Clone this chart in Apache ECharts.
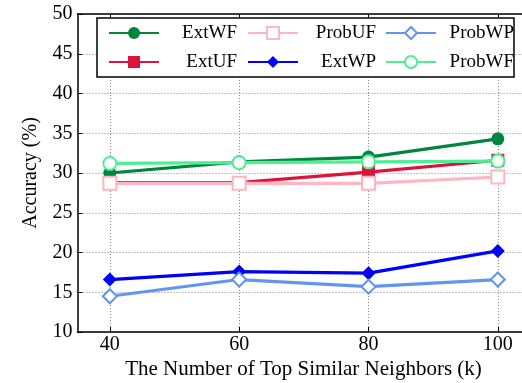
<!DOCTYPE html>
<html>
<head>
<meta charset="utf-8">
<script src="https://cdn.jsdelivr.net/npm/echarts@6/dist/echarts.min.js"></script>
<style>html,body{margin:0;padding:0;background:#fff;overflow:hidden}#c{width:522px;height:383px}</style>
</head>
<body>
<div id="c"></div>
<script>
const kValues = [40, 60, 80, 100];
const yTicks = [10, 15, 20, 25, 30, 35, 40, 45, 50];
const extWF = [30.0, 31.4, 32.0, 34.3];
const extUF = [28.8, 28.8, 30.1, 31.6];
const probUF = [28.7, 28.7, 28.7, 29.5];
const extWP = [16.6, 17.6, 17.4, 20.2];
const probWP = [14.5, 16.6, 15.7, 16.6];
const probWF = [31.2, 31.3, 31.4, 31.5];

const FONT = 'Liberation Serif';
const chart = echarts.init(document.getElementById('c'), null, {renderer: 'canvas'});

function pts(arr) { return kValues.map((k, i) => [k, arr[i]]); }

const seriesDefs = [
  {name: 'ExtWF', data: extWF, color: '#00853F', symbol: 'circle', size: 13, empty: false},
  {name: 'ExtUF', data: extUF, color: '#DC143C', symbol: 'rect', size: 13, empty: false},
  {name: 'ExtWP', data: extWP, color: '#0000FF', symbol: 'diamond', size: 14, empty: false},
  {name: 'ProbUF', data: probUF, color: '#FFB6C1', symbol: 'emptyRect', size: 13, empty: true},
  {name: 'ProbWP', data: probWP, color: '#6495ED', symbol: 'emptyDiamond', size: 14, empty: true},
  {name: 'ProbWF', data: probWF, color: '#4EEE94', symbol: 'emptyCircle', size: 13, empty: true}
];

const series = seriesDefs.map(d => ({
  name: d.name,
  type: 'line',
  data: pts(d.data),
  symbol: d.symbol,
  symbolSize: d.size,
  showAllSymbol: true,
  clip: false,
  lineStyle: {color: d.color, width: 3.2},
  itemStyle: {color: d.color, borderColor: d.color, borderWidth: d.empty ? 3 : 0},
  emphasis: {disabled: true},
  animation: false
}));

// legend layout: column-major (ExtWF, ExtUF | ProbUF, ExtWP | ProbWP, ProbWF)
const legendOrder = ['ExtWF', 'ExtUF', 'ProbUF', 'ExtWP', 'ProbWP', 'ProbWF'];
const colX = [108, 247, 385];
const rowY = [23, 52];
const legends = legendOrder.map((name, i) => {
  const base = {
    data: [name],
    left: colX[Math.floor(i / 2)],
    top: rowY[i % 2],
    orient: 'horizontal',
    itemWidth: 50,
    itemHeight: 15,
    itemGap: 0,
    padding: 0,
    z: 10,
    selectedMode: false,
    formatter: n => '{r|' + n + '}',
    textStyle: {
      fontFamily: FONT, fontSize: 19, color: '#000', lineHeight: 20,
      rich: {r: {fontFamily: FONT, fontSize: 19, color: '#000', width: 73, align: 'right', lineHeight: 20}}
    }
  };
  if (i === 0) {
    // first legend also carries the framed white box around all entries
    Object.assign(base, {
      left: 97, top: 18,
      padding: [5, 277, 34, 11],
      borderColor: '#000', borderWidth: 1.5, backgroundColor: '#fff',
      z: 9
    });
  }
  return base;
});

chart.setOption({
  backgroundColor: '#fff',
  animation: false,
  grid: {left: 77.5, top: 14, width: 485, height: 318, containLabel: false, outerBoundsMode: 'none', show: false},
  legend: legends,
  xAxis: [{
    type: 'value', min: 35, max: 110, position: 'bottom',
    axisLine: {show: true, onZero: false, lineStyle: {color: '#000', width: 1.5}},
    axisTick: {show: true, inside: true, length: 5, lineStyle: {color: '#000', width: 1}, customValues: kValues},
    axisLabel: {customValues: kValues, fontFamily: FONT, fontSize: 20, color: '#000', margin: 3},
    splitLine: {show: true, lineStyle: {color: '#888', type: [1, 2], width: 1}},
    name: 'The Number of Top Similar Neighbors (k)',
    nameLocation: 'start', nameGap: -226,
    nameTextStyle: {fontFamily: FONT, fontSize: 21, color: '#000', align: 'center', verticalAlign: 'top', padding: [27, 0, 0, 0]}
  }, {
    type: 'value', min: 35, max: 110, position: 'top',
    axisLine: {show: true, onZero: false, lineStyle: {color: '#000', width: 1.5}},
    axisTick: {show: true, inside: true, length: 5, lineStyle: {color: '#000', width: 1}, customValues: kValues},
    axisLabel: {show: false},
    splitLine: {show: false}
  }],
  yAxis: [{
    type: 'value', min: yTicks[0], max: yTicks[yTicks.length - 1], interval: 5,
    axisLine: {show: true, onZero: false, lineStyle: {color: '#000', width: 1.5}},
    axisTick: {show: true, inside: true, length: 5, lineStyle: {color: '#000', width: 1}},
    axisLabel: {fontFamily: FONT, fontSize: 20, color: '#000', margin: 5},
    splitLine: {show: true, lineStyle: {color: '#888', type: [1, 2], width: 1}},
    name: 'Accuracy (%)', nameLocation: 'middle', nameGap: 37,
    nameTextStyle: {fontFamily: FONT, fontSize: 20, color: '#000'}
  }],
  series: series
});
</script>
</body>
</html>
